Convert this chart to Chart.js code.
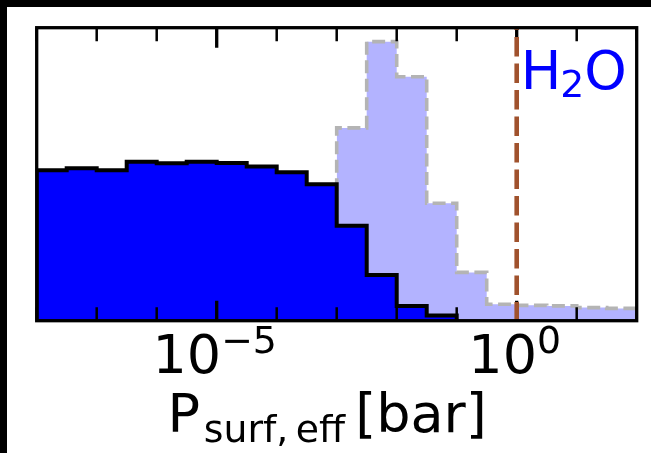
<!DOCTYPE html>
<html>
<head>
<meta charset="utf-8">
<script src="https://cdn.jsdelivr.net/npm/chart.js@4.4.1/dist/chart.umd.min.js"></script>
<style>
  html, body { margin: 0; padding: 0; background: #000; width: 651px; height: 453px; overflow: hidden; }
  #wrap { position: absolute; left: 7px; top: 7px; width: 644px; height: 446px; background: #fff; }
  canvas { display: block; }
</style>
</head>
<body>
<div id="wrap"><canvas id="c" width="644" height="446"></canvas></div>
<script>
// Histogram bin edges, as log10 of the effective surface pressure in bar
const binEdgeExps = [-8, -7.5, -7, -6.5, -6, -5.5, -5, -4.5, -4, -3.5, -3,
                     -2.5, -2, -1.5, -1, -0.5, 0, 0.5, 1, 1.5, 2];

// Normalised counts per bin (peak of the full sample = 1)
const histSelected = [0.539, 0.546, 0.539, 0.570, 0.564, 0.570, 0.565, 0.553, 0.532, 0.489,
                      0.340, 0.164, 0.053, 0.019, 0, 0, 0, 0, 0, 0];
const histAll      = [0, 0, 0, 0, 0, 0, 0, 0, 0, 0,
                      0.691, 1.000, 0.874, 0.421, 0.173, 0.059, 0.055, 0.053, 0.047, 0.044];

// Axis ticks: one per decade, labelled every five decades
const decadeExps = [-8, -7, -6, -5, -4, -3, -2, -1, 0, 1, 2];
const majorTickExps = [-5, 0];
const majorTickLabels = [['10', '\u22125'], ['10', '0']];

// Reference line: water at 1 bar
const h2oExp = 0;
const h2oLabel = ['H', '2', 'O'];

const FONT = '"DejaVu Sans"';
const BIG = 54, SMALL = 37.8;

// Step outline of a histogram: rises at the first filled bin, drops after the last
function stepOutline(edges, counts) {
  const first = counts.findIndex(c => c > 0);
  let last = counts.length - 1;
  while (last > 0 && counts[last] === 0) last--;
  const pts = [{ x: 10 ** edges[first], y: 0 }];
  for (let i = first; i <= last; i++) pts.push({ x: 10 ** edges[i], y: counts[i] });
  pts.push({ x: 10 ** edges[last + 1], y: 0 });
  return pts;
}

function drawParts(ctx, x, base, parts) {
  parts.forEach(p => {
    x += p.gap || 0;
    ctx.font = p.size + 'px ' + FONT;
    ctx.fillText(p.text, x, base + (p.dy || 0));
    x += ctx.measureText(p.text).width;
  });
  return x;
}
function partsWidth(ctx, parts) {
  let w = 0;
  parts.forEach(p => { ctx.font = p.size + 'px ' + FONT; w += (p.gap || 0) + ctx.measureText(p.text).width; });
  return w;
}

const frameAndLabels = {
  id: 'frameAndLabels',
  afterDatasetsDraw(chart) {
    const { ctx, chartArea: a } = chart;
    const x = chart.scales.x;
    ctx.save();

    // inward decade ticks on top and bottom
    ctx.strokeStyle = '#000';
    ctx.lineCap = 'butt';
    decadeExps.forEach(e => {
      const px = x.getPixelForValue(10 ** e);
      const major = majorTickExps.includes(e);
      const len = major ? 20 : 13.5;
      ctx.lineWidth = major ? 3.3 : 2.5;
      ctx.beginPath();
      ctx.moveTo(px, a.top); ctx.lineTo(px, a.top + len);
      ctx.moveTo(px, a.bottom); ctx.lineTo(px, a.bottom - len);
      ctx.stroke();
    });

    // dashed water line
    const wx = x.getPixelForValue(10 ** h2oExp);
    ctx.save();
    ctx.beginPath(); ctx.rect(a.left, a.top, a.right - a.left, a.bottom - a.top); ctx.clip();
    ctx.strokeStyle = '#a0522d';
    ctx.lineWidth = 4.6;
    ctx.setLineDash([19.5, 7]);
    ctx.lineDashOffset = 17.2;
    ctx.beginPath(); ctx.moveTo(wx, a.top); ctx.lineTo(wx, a.bottom); ctx.stroke();
    ctx.restore();

    // axes frame
    ctx.lineWidth = 3.3;
    ctx.strokeStyle = '#000';
    ctx.strokeRect(a.left, a.top, a.right - a.left, a.bottom - a.top);

    // tick labels with superscript exponents
    ctx.fillStyle = '#000';
    ctx.textBaseline = 'alphabetic';
    ctx.textAlign = 'left';
    majorTickExps.forEach((e, i) => {
      const px = x.getPixelForValue(10 ** e);
      const parts = [
        { text: majorTickLabels[i][0], size: BIG },
        { text: majorTickLabels[i][1], size: SMALL, dy: -20.5 }
      ];
      const w = partsWidth(ctx, parts);
      drawParts(ctx, px - w / 2 - 2, a.bottom + 52.3, parts);
    });

    // axis title with subscript
    const title = [
      { text: 'P', size: BIG },
      { text: 'surf,\u2009eff', size: SMALL, dy: 10, gap: 3.7 },
      { text: '[bar]', size: BIG, gap: 10 }
    ];
    const tw = partsWidth(ctx, title);
    const cx = (a.left + a.right) / 2;
    drawParts(ctx, cx - tw / 2 - 9.5, a.bottom + 111.3, title);

    // H2O label next to the water line
    ctx.fillStyle = '#0000ff';
    drawParts(ctx, wx + 4, a.top + 61.3, [
      { text: h2oLabel[0], size: BIG },
      { text: h2oLabel[1], size: SMALL, dy: 8, gap: -1 },
      { text: h2oLabel[2], size: BIG }
    ]);

    ctx.restore();
  }
};

new Chart(document.getElementById('c'), {
  type: 'line',
  data: {
    datasets: [
      {
        label: 'selected',
        data: stepOutline(binEdgeExps, histSelected),
        stepped: true,
        fill: 'origin',
        backgroundColor: '#0000ff',
        borderColor: '#000000',
        borderWidth: 4,
        pointRadius: 0,
        order: 0
      },
      {
        label: 'all',
        data: stepOutline(binEdgeExps, histAll),
        stepped: true,
        fill: 'origin',
        backgroundColor: '#b3b3ff',
        borderColor: '#b4b4b4',
        borderWidth: 3.6,
        borderDash: [13, 5.5],
        pointRadius: 0,
        order: 1
      }
    ]
  },
  options: {
    responsive: false,
    animation: false,
    devicePixelRatio: 1,
    events: [],
    layout: { padding: { left: 29.7, right: 14.3, top: 20.7, bottom: 132.3 } },
    plugins: { legend: { display: false }, tooltip: { enabled: false } },
    scales: {
      x: { type: 'logarithmic', min: 1e-8, max: 1e2, display: false },
      y: { type: 'linear', min: 0, max: 1.05, display: false }
    }
  },
  plugins: [frameAndLabels]
});
</script>
</body>
</html>
